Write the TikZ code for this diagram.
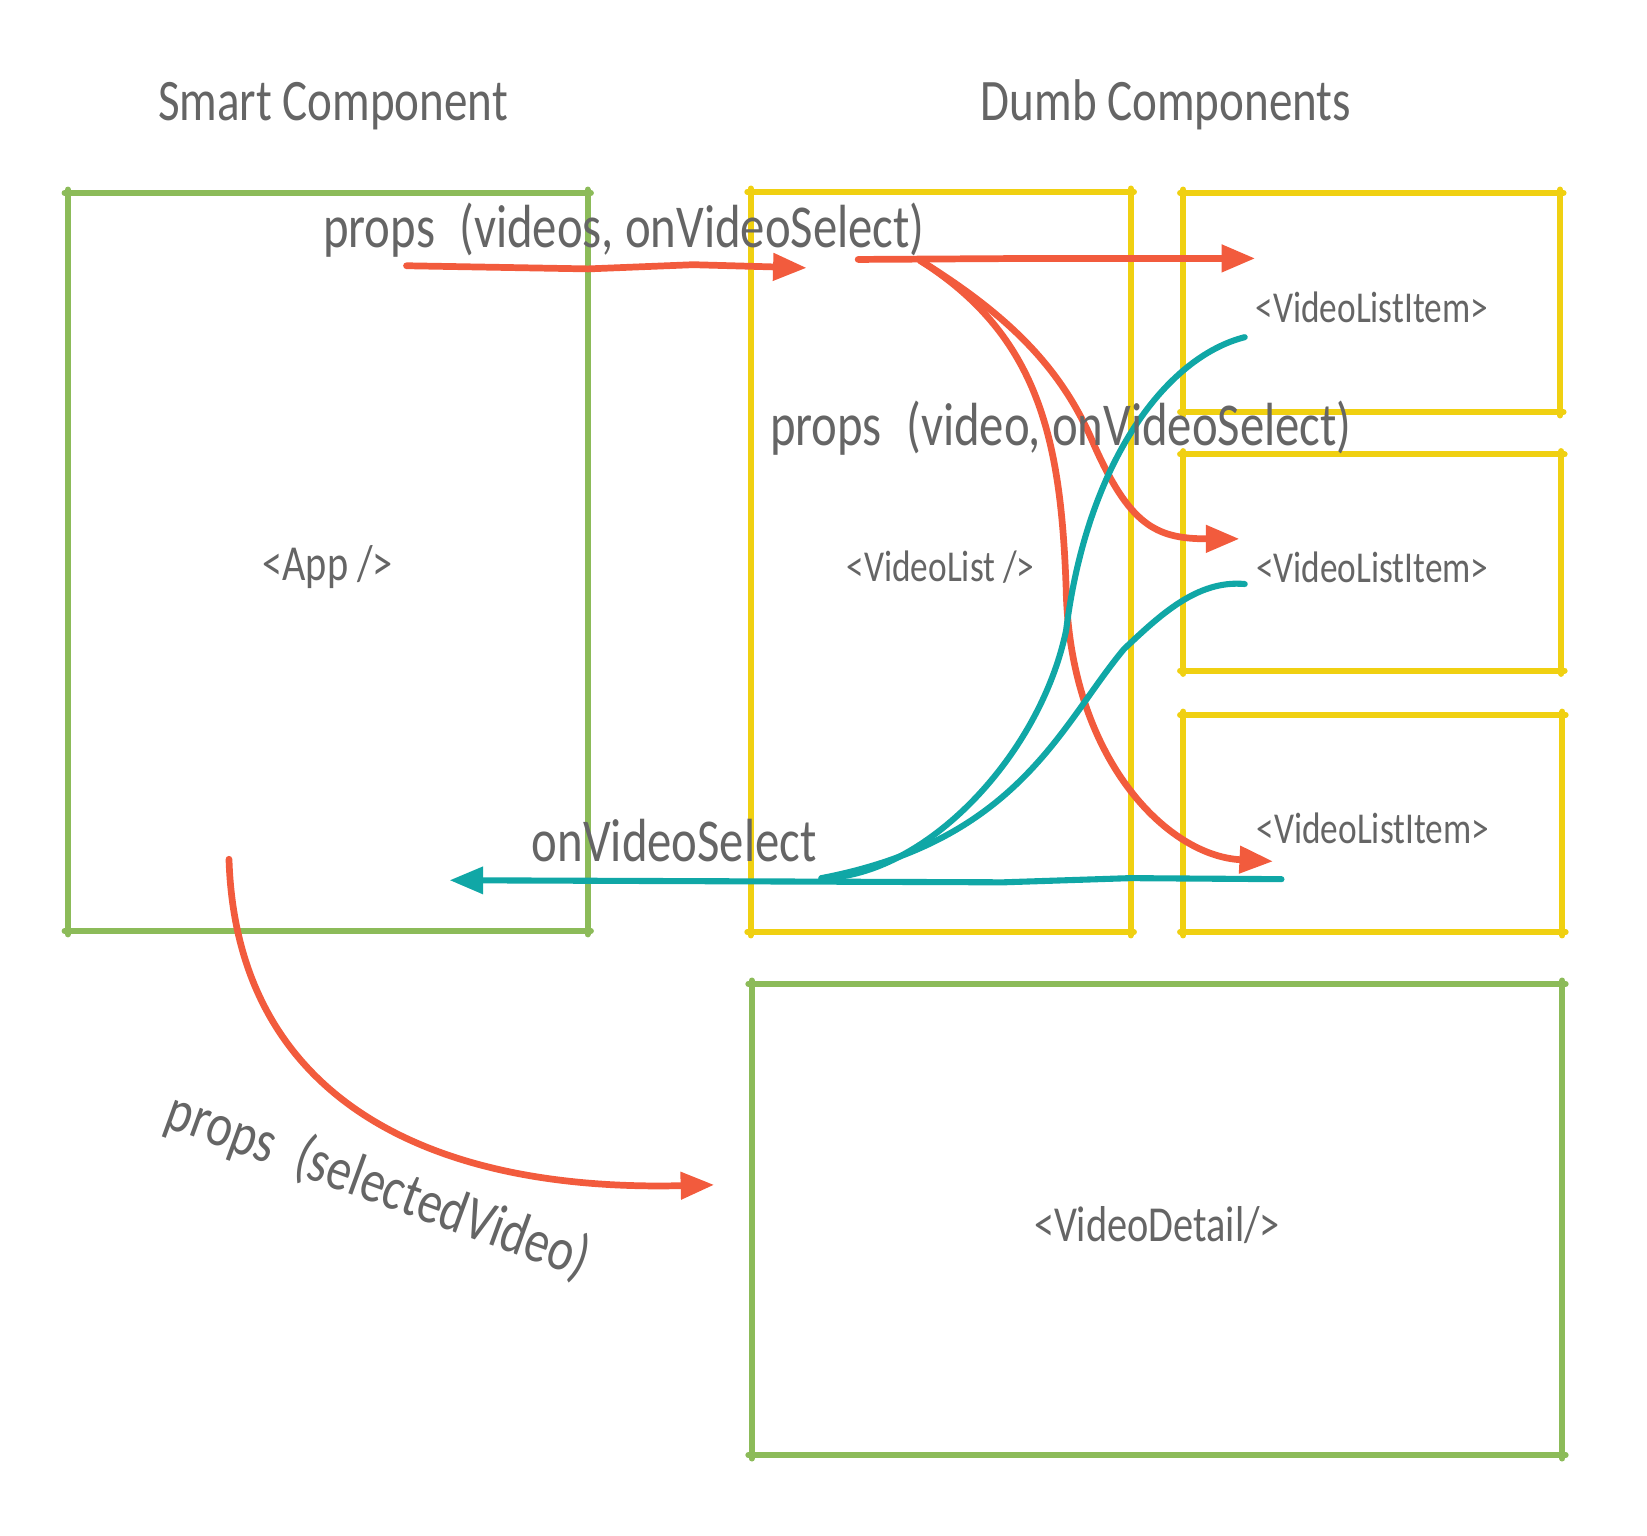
\documentclass[tikz,border=0pt]{standalone}
\usepackage{fontspec}
\setmainfont{Carlito}
\usepackage{graphicx}
\usetikzlibrary{arrows.meta}
\definecolor{cgreen}{HTML}{8CBB59}
\definecolor{cyellow}{HTML}{F0D011}
\definecolor{cred}{HTML}{F25B3D}
\definecolor{cteal}{HTML}{10A7A6}
\definecolor{ctext}{HTML}{656565}
\newcommand{\nrw}[1]{\scalebox{0.8}[1]{#1}}
\newcommand{\boxtxt}[1]{\raisebox{-2.5pt}[\height][\depth]{\scalebox{0.8}[1]{#1}}}
\begin{document}
\begin{tikzpicture}[x=0.5pt,y=-0.5pt,
  greenbox/.style={inner sep=0pt, text=ctext, font=\fontsize{24}{28}\selectfont},
  yellowbox/.style={inner sep=0pt, text=ctext, font=\fontsize{21}{25}\selectfont},
  boxside/.style={draw=#1, line width=2.8pt, line cap=round, shorten <=-1.6pt, shorten >=-1.6pt},
  titletext/.style={text=ctext, font=\fontsize{28}{32}\selectfont, anchor=base, inner sep=0pt},
  flowlabel/.style={text=ctext, font=\fontsize{29}{33}\selectfont, anchor=base, inner sep=0pt},
  redarrow/.style={draw=cred, line width=3.2pt, line cap=round, line join=round, -{Triangle[length=16pt,width=12.5pt]}},
  tealline/.style={draw=cteal, line width=2.9pt, line cap=round, line join=round},
  tealarrow/.style={tealline, -{Triangle[length=16pt,width=12.5pt]}},
]
\useasboundingbox (0,0) rectangle (1568,1462);

% boxes
\node[greenbox, minimum width=247pt, minimum height=351pt] (app) at (312,535) {\boxtxt{<App />}};
\node[yellowbox, minimum width=180.5pt, minimum height=352pt] (vlist) at (895.5,535) {\boxtxt{<VideoList />}};
\node[yellowbox, minimum width=179pt, minimum height=104pt] (item1) at (1306,288) {\boxtxt{<VideoListItem>}};
\node[yellowbox, minimum width=179.5pt, minimum height=102.5pt] (item2) at (1306.5,535.5) {\boxtxt{<VideoListItem>}};
\node[yellowbox, minimum width=180pt, minimum height=103pt] (item3) at (1307,784) {\boxtxt{<VideoListItem>}};
\node[greenbox, minimum width=385.5pt, minimum height=224pt] (detail) at (1101.5,1161) {\boxtxt{<VideoDetail/>}};

\foreach \n/\c in {app/cgreen,vlist/cyellow,item1/cyellow,item2/cyellow,item3/cyellow,detail/cgreen}{
  \draw[boxside=\c] (\n.north west) -- (\n.north east);
  \draw[boxside=\c] (\n.north east) -- (\n.south east);
  \draw[boxside=\c] (\n.south east) -- (\n.south west);
  \draw[boxside=\c] (\n.south west) -- (\n.north west);
  \foreach \a in {north west,north east,south east,south west}
    \fill[\c] (\n.\a) circle (1.9pt);
}

% connector end points
\coordinate (a1s) at (387,253);
\coordinate (a1e) at (768,255);
\coordinate (a2s) at (817,247);
\coordinate (a2e) at (1195,246);
\coordinate (fork) at (876,248);
\coordinate (a3e) at (1180,513);
\coordinate (a4e) at (1212,820);
\coordinate (t1s) at (1220,837);
\coordinate (t1e) at (428,838);
\coordinate (t2s) at (1185,321);
\coordinate (t3s) at (1185,556);
\coordinate (join) at (782,836);
\coordinate (a5s) at (218,818);
\coordinate (a5e) at (680,1128);

% red arrows
\draw[redarrow] (a1s) -- (560,256) -- (660,252) -- (a1e);
\draw[redarrow] (a2s) -- (990,246) -- (a2e);
\draw[redarrow] (fork) .. controls (960,300) and (1010,350) .. (1040,420)
                       .. controls (1075,500) and (1100,513) .. (a3e);
\draw[redarrow] (fork) .. controls (990,320) and (1010,420) .. (1015,560)
                       .. controls (1018,720) and (1110,815) .. (a4e);
\draw[redarrow] (a5s) .. controls (225,1040) and (400,1135) .. (a5e);

% teal lines
\draw[tealarrow] (t1s) -- (1076,836) -- (955,840) -- (t1e);
\draw[tealline] (t2s) .. controls (1110,340) and (1035,440) .. (1015,600)
                      .. controls (990,720) and (880,835) .. (join);
\draw[tealline] (t3s) .. controls (1140,552) and (1105,585) .. (1070,618)
                      .. controls (1010,690) and (970,800) .. (join);

% texts
\node[titletext] (smart) at (317,115) {\nrw{Smart Component}};
\node[titletext] (dumb) at (1110,115) {\nrw{Dumb Components}};
\node[flowlabel] (lab1) at (594,236) {\nrw{props\hspace{0.5em}(videos, onVideoSelect)}};
\node[flowlabel] (lab2) at (1010,424) {\nrw{props\hspace{0.5em}(video, onVideoSelect)}};
\node[flowlabel] (lab3) at (642,820) {\nrw{onVideoSelect}};
\node[flowlabel, anchor=center, rotate=-20] (lab4) at (360,1129) {\nrw{props\hspace{0.5em}(selectedVideo)}};
\end{tikzpicture}
\end{document}
